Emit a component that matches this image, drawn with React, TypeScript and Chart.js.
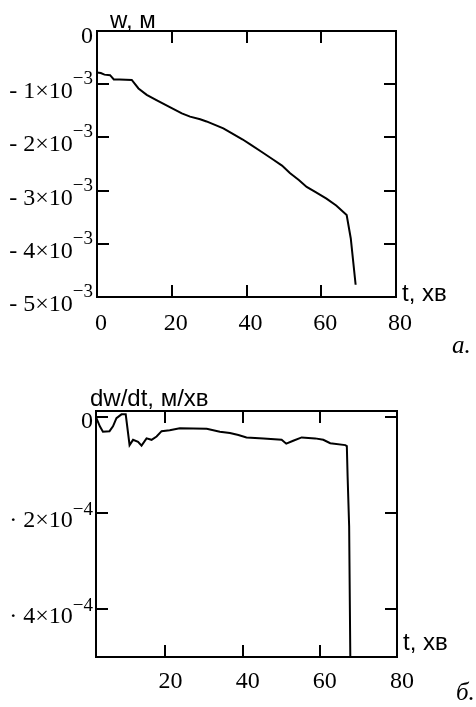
import React, { useEffect, useRef } from "react";
import { Chart, registerables } from "chart.js";
Chart.register(...registerables);

// ---- Chart a: displacement w (×1e-3 m) vs t (min)
const tTop = [0, 1, 2, 3.5, 4.5, 6, 9.3, 11.1, 13.3, 15.9, 20, 22.7, 24.9, 27.6, 29.3, 33.8, 36, 39, 41, 44, 47.2, 49.5, 51.6, 54, 56.1, 58.5, 61.4, 64, 66.8, 67.9, 69.2];
const wTop = [-0.78, -0.79, -0.82, -0.83, -0.91, -0.91, -0.92, -1.08, -1.2, -1.3, -1.45, -1.55, -1.61, -1.66, -1.7, -1.83, -1.92, -2.04, -2.13, -2.27, -2.42, -2.53, -2.67, -2.8, -2.93, -3.03, -3.15, -3.28, -3.46, -3.9, -4.77];
const topXTicks = [0, 20, 40, 60, 80];
const topXLabels = ["0", "20", "40", "60", "80"];
const topYTicks = [0, -1, -2, -3, -4, -5]; // ×1e-3
const topYBase = ["0", "- 1×10", "- 2×10", "- 3×10", "- 4×10", "- 5×10"];
const topYSup = ["", "−3", "−3", "−3", "−3", "−3"];

// ---- Chart б: rate dw/dt (×1e-4 m/min) vs t (min)
const tBot = [2.1, 3.0, 3.8, 5.5, 6.4, 7.3, 8.6, 9.7, 10.7, 11.6, 12.9, 13.8, 15.1, 16.4, 17.7, 19, 21.1, 23.7, 30.7, 34.1, 36.7, 38.9, 41, 45.4, 50.1, 51.3, 53.1, 55.3, 58.8, 60.9, 62.7, 66.6, 67, 67.2, 67.6, 67.9];
const vBot = [-0.03, -0.2, -0.31, -0.3, -0.2, -0.03, 0.05, 0.05, -0.59, -0.48, -0.52, -0.6, -0.45, -0.48, -0.41, -0.3, -0.28, -0.24, -0.25, -0.31, -0.34, -0.38, -0.43, -0.45, -0.48, -0.56, -0.5, -0.43, -0.45, -0.48, -0.55, -0.59, -0.61, -1.24, -2.28, -5.0];
const botXTicks = [20, 40, 60, 80];
const botXLabels = ["20", "40", "60", "80"];
const botYTicks = [0, -2, -4]; // ×1e-4
const botYBase = ["0", "· 2×10", "· 4×10"];
const botYSup = ["", "−4", "−4"];

const SERIF = "'Liberation Serif', 'Times New Roman', serif";
const SANS = "'Liberation Sans', Arial, sans-serif";

type FrameCfg = {
  xTicks: number[];
  xLabels: string[];
  yTicks: number[];
  yScale: number;
  yBase: string[];
  ySup: string[];
  xLabelDy: number;
  xLabelDx: number;
  baseDy: number;
  supDy: number;
  zeroDy: number;
  yTitle: string;
  yTitleX: number;
  yTitleY: number;
  xTitleY: number;
  letter: string;
  letterX: number;
  letterY: number;
};

function framePlugin(cfg: FrameCfg) {
  return {
    id: "frame",
    afterDraw(chart: any) {
      const ctx = chart.ctx as CanvasRenderingContext2D;
      const { left, right, top, bottom } = chart.chartArea;
      const xs = chart.scales.x;
      const ys = chart.scales.y;
      ctx.save();
      ctx.strokeStyle = "#000";
      ctx.fillStyle = "#000";
      ctx.lineWidth = 2;
      ctx.strokeRect(left, top, right - left, bottom - top);
      const tl = 12;
      ctx.beginPath();
      cfg.xTicks.forEach((v) => {
        const px = Math.round(xs.getPixelForValue(v));
        if (px > left + 2 && px < right - 2) {
          ctx.moveTo(px, bottom);
          ctx.lineTo(px, bottom - tl);
          ctx.moveTo(px, top);
          ctx.lineTo(px, top + tl);
        }
      });
      cfg.yTicks.forEach((v) => {
        const py = Math.round(ys.getPixelForValue(v * cfg.yScale));
        if (py >= top && py < bottom - 2) {
          ctx.moveTo(left, py);
          ctx.lineTo(left + tl, py);
          ctx.moveTo(right, py);
          ctx.lineTo(right - tl, py);
        }
      });
      ctx.stroke();

      // x tick labels
      ctx.font = `24px ${SERIF}`;
      ctx.textAlign = "center";
      ctx.textBaseline = "alphabetic";
      cfg.xTicks.forEach((v, i) => {
        const px = xs.getPixelForValue(v);
        ctx.fillText(cfg.xLabels[i], px + cfg.xLabelDx, bottom + cfg.xLabelDy);
      });

      // y tick labels with superscripts
      const rightEdge = 93;
      cfg.yTicks.forEach((v, i) => {
        const py = ys.getPixelForValue(v * cfg.yScale);
        const sup = cfg.ySup[i];
        ctx.textAlign = "right";
        if (!sup) {
          ctx.font = `24px ${SERIF}`;
          ctx.fillText(cfg.yBase[i], rightEdge, py + cfg.zeroDy);
          return;
        }
        ctx.font = `19px ${SERIF}`;
        const sw = ctx.measureText(sup).width;
        ctx.fillText(sup, rightEdge, py + cfg.supDy);
        ctx.font = `24px ${SERIF}`;
        ctx.fillText(cfg.yBase[i], rightEdge - sw, py + cfg.baseDy);
      });

      // axis titles
      ctx.font = `24px ${SANS}`;
      ctx.textAlign = "left";
      ctx.fillText(cfg.yTitle, cfg.yTitleX, cfg.yTitleY);
      ctx.fillText("t, хв", right + 6, cfg.xTitleY);

      // panel letter
      ctx.font = `italic 25px ${SERIF}`;
      ctx.fillText(cfg.letter, cfg.letterX, cfg.letterY);
      ctx.restore();
    },
  };
}

function Panel(props: {
  top: number;
  height: number;
  xs: number[];
  ys: number[];
  yScale: number;
  xMin: number;
  xMax: number;
  yMin: number;
  yMax: number;
  padding: { left: number; right: number; top: number; bottom: number };
  cfg: FrameCfg;
}) {
  const ref = useRef<HTMLCanvasElement | null>(null);
  useEffect(() => {
    if (!ref.current) return;
    const pts = props.xs.map((x, i) => ({ x, y: props.ys[i] * props.yScale }));
    const chart = new Chart(ref.current, {
      type: "line",
      data: {
        datasets: [
          {
            data: pts,
            borderColor: "#000",
            borderWidth: 2,
            pointRadius: 0,
            tension: 0,
            fill: false,
          },
        ],
      },
      options: {
        responsive: false,
        animation: false,
        devicePixelRatio: 1,
        layout: { padding: props.padding },
        plugins: { legend: { display: false }, tooltip: { enabled: false } },
        scales: {
          x: { type: "linear", min: props.xMin, max: props.xMax, display: false },
          y: { type: "linear", min: props.yMin, max: props.yMax, display: false },
        },
      },
      plugins: [framePlugin(props.cfg)],
    } as any);
    return () => chart.destroy();
  }, []);
  return (
    <canvas
      ref={ref}
      width={476}
      height={props.height}
      style={{ position: "absolute", left: 0, top: props.top, width: 476, height: props.height }}
    />
  );
}

export default function App() {
  return (
    <div style={{ position: "fixed", left: 0, top: 0, width: 476, height: 707, background: "#fff" }}>
      <Panel
        top={0}
        height={355}
        xs={tTop}
        ys={wTop}
        yScale={1e-3}
        xMin={0}
        xMax={80}
        yMin={-5e-3}
        yMax={0}
        padding={{ left: 97, right: 80, top: 31, bottom: 58 }}
        cfg={{
          xTicks: topXTicks,
          xLabels: topXLabels,
          yTicks: topYTicks,
          yScale: 1e-3,
          yBase: topYBase,
          ySup: topYSup,
          xLabelDy: 33,
          xLabelDx: 4,
          baseDy: 14,
          supDy: 0,
          zeroDy: 12,
          yTitle: "w, м",
          yTitleX: 110,
          yTitleY: 28,
          xTitleY: 301,
          letter: "а.",
          letterX: 452,
          letterY: 353,
        }}
      />
      <Panel
        top={355}
        height={352}
        xs={tBot}
        ys={vBot}
        yScale={1e-4}
        xMin={2}
        xMax={80}
        yMin={-5e-4}
        yMax={1.2e-5}
        padding={{ left: 96, right: 79, top: 56, bottom: 50 }}
        cfg={{
          xTicks: botXTicks,
          xLabels: botXLabels,
          yTicks: botYTicks,
          yScale: 1e-4,
          yBase: botYBase,
          ySup: botYSup,
          xLabelDy: 31,
          xLabelDx: 5,
          baseDy: 14,
          supDy: 2,
          zeroDy: 11,
          yTitle: "dw/dt, м/хв",
          yTitleX: 90,
          yTitleY: 51,
          xTitleY: 295,
          letter: "б.",
          letterX: 456,
          letterY: 345,
        }}
      />
    </div>
  );
}
